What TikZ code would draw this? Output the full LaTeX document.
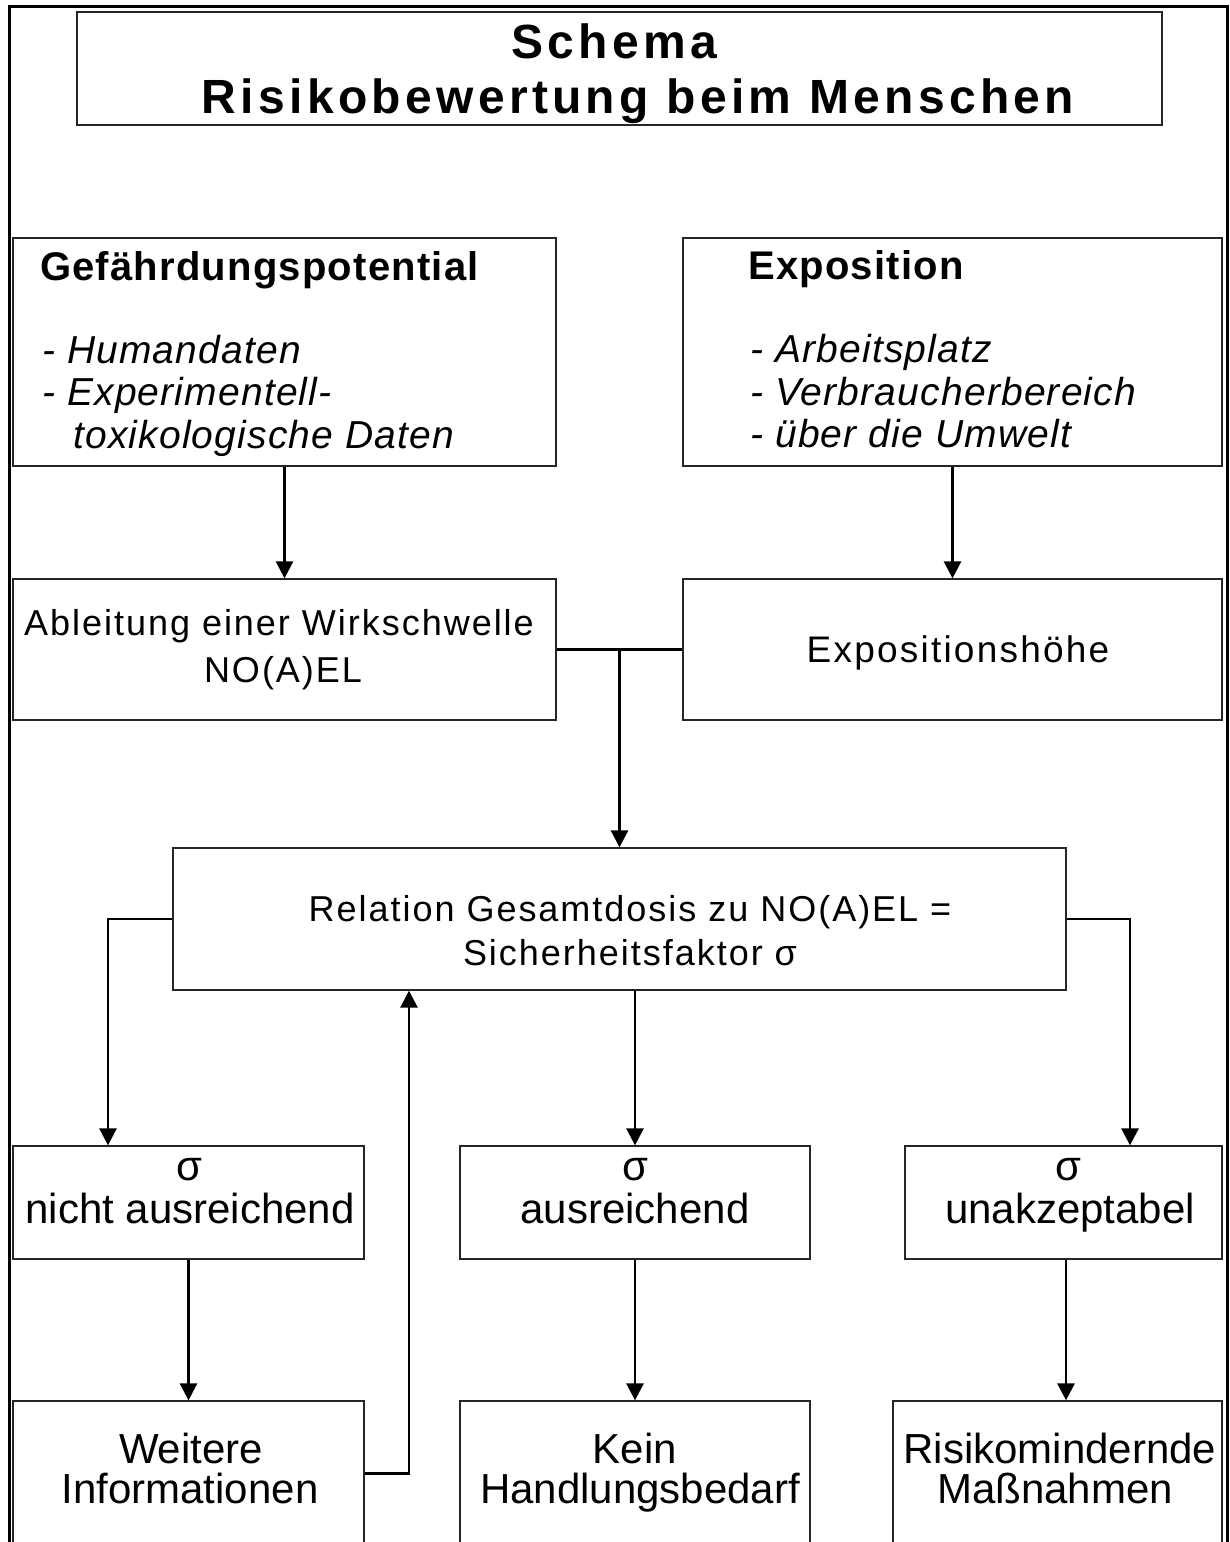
\documentclass[tikz,border=0pt]{standalone}
\usepackage{fontspec}
\setmainfont{Liberation Sans}
\usetikzlibrary{arrows.meta}
\begin{document}
\begin{tikzpicture}[x=1pt,y=-1pt,
  box/.style={draw=black!85, line width=1.3pt, inner sep=0pt, rectangle},
  conn/.style={line width=2.7pt, black},
  arr/.style={conn, -{Triangle[length=17pt,width=17pt]}},
  txt/.style={anchor=base, inner sep=0pt, font=\fontsize{36}{43}\selectfont\addfontfeature{LetterSpace=5.5}},
  big/.style={anchor=base, inner sep=0pt, font=\fontsize{42}{50}\selectfont},
  head/.style={anchor=base west, inner sep=0pt, font=\fontsize{40}{48}\selectfont\bfseries\addfontfeature{LetterSpace=3}},
  item/.style={anchor=base west, inner sep=0pt, font=\fontsize{39}{46}\selectfont\itshape\addfontfeature{LetterSpace=3}},
  ttl/.style={anchor=base, inner sep=0pt, font=\fontsize{48}{56}\selectfont\bfseries\addfontfeature{LetterSpace=9}},
]
\useasboundingbox (0,0) rectangle (1229,1542);
\clip (0,0) rectangle (1229,1542);
\fill[white] (0,0) rectangle (1229,1542);
% outer frame
\draw[line width=3pt] (9,1546) -- (9,6) -- (1227,6) -- (1227,1546);
% title
\node[box, minimum width=1085pt, minimum height=113pt] (title) at (619.5,68.5) {};
\node[ttl] (t1) at (614,58) {Schema};
\node[ttl] (t2) at (638,113) {Risikobewertung beim Menschen};
% top boxes
\node[box, minimum width=543pt, minimum height=228pt] (gef) at (284.5,352) {};
\node[head] (gh) at (40,280) {Gefährdungspotential};
\node[item] (g1) at (42,363) {- Humandaten};
\node[item] (g2) at (42,405) {- Experimentell-};
\node[item] (g3) at (73,448) {toxikologische Daten};
\node[box, minimum width=539pt, minimum height=228pt] (expo) at (952.5,352) {};
\node[head] (eh) at (748,279) {Exposition};
\node[item] (e1) at (750,362) {- Arbeitsplatz};
\node[item] (e2) at (750,405) {- Verbraucherbereich};
\node[item] (e3) at (750,447) {- über die Umwelt};
% second row
\node[box, minimum width=543pt, minimum height=141pt] (abl) at (284.5,649.5) {};
\node[txt] (a1) at (279,635) {Ableitung einer Wirkschwelle};
\node[txt] (a2) at (283,682) {NO(A)EL};
\node[box, minimum width=539pt, minimum height=141pt] (hoehe) at (952.5,649.5) {};
\node[txt, font=\fontsize{37}{44}\selectfont\addfontfeature{LetterSpace=6}] (h1) at (958,662) {Expositionshöhe};
% relation
\node[box, minimum width=893pt, minimum height=142pt] (rel) at (619.5,919) {};
\node[txt] (r1) at (630,921) {Relation Gesamtdosis zu NO(A)EL =};
\node[txt] (r2) at (630,965) {Sicherheitsfaktor σ};
% sigma boxes
\node[box, minimum width=351pt, minimum height=113pt] (s1) at (188.5,1202.5) {};
\node[big] (s1a) at (189,1180) {σ};
\node[big] (s1b) at (190,1223) {nicht ausreichend};
\node[box, minimum width=350pt, minimum height=113pt] (s2) at (635,1202.5) {};
\node[big] (s2a) at (635,1180) {σ};
\node[big] (s2b) at (635,1223) {ausreichend};
\node[box, minimum width=317pt, minimum height=113pt] (s3) at (1063.5,1202.5) {};
\node[big] (s3a) at (1068,1180) {σ};
\node[big] (s3b) at (1070,1223) {unakzeptabel};
% bottom boxes (open at bottom)
\node[box, minimum width=351pt, minimum height=241pt] (weitere) at (188.5,1521.5) {};
\node[big] (w1) at (191,1463) {Weitere};
\node[big] (w2) at (190,1503) {Informationen};
\node[box, minimum width=350pt, minimum height=241pt] (kein) at (635,1521.5) {};
\node[big] (k1) at (635,1463) {Kein};
\node[big] (k2) at (640,1503) {Handlungsbedarf};
\node[box, minimum width=329pt, minimum height=241pt] (risk) at (1057.5,1521.5) {};
\node[big] (m1) at (1060,1463) {Risikomindernde};
\node[big] (m2) at (1055,1503) {Maßnahmen};
% connectors
\draw[arr] (gef.south) -- (abl.north);
\draw[arr] (expo.south) -- (hoehe.north);
\draw[conn] (abl.east) -- (hoehe.west);
\draw[arr] (abl.east -| rel.north) -- (rel.north);
\draw[arr] (rel.west) -| ([xshift=-80.5pt]s1.north);
\draw[arr] (rel.east) -| ([xshift=66.5pt]s3.north);
\draw[arr] (rel.south -| s2.north) -- (s2.north);
\draw[arr] (s1.south) -- (weitere.north);
\draw[arr] (s2.south) -- (kein.north);
\draw[arr] ([xshift=2.5pt]s3.south) -- ([xshift=2.5pt]s3.south |- risk.north);
\draw[arr] ([yshift=-73pt]weitere.north east) -| ([xshift=-210.5pt]rel.south);
\end{tikzpicture}
\end{document}
